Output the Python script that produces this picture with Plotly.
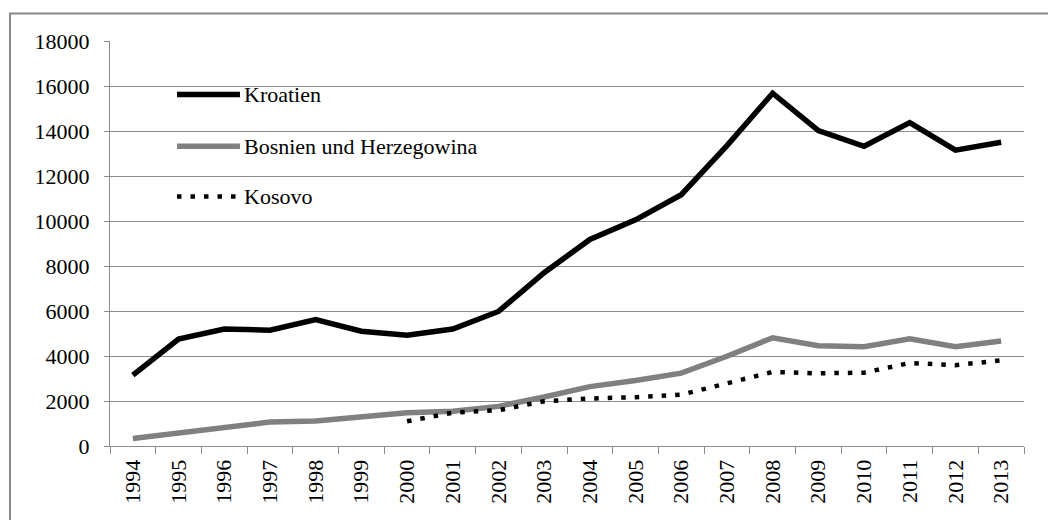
import plotly.graph_objects as go

years = [str(y) for y in range(1994, 2014)]
kroatien = [3150, 4750, 5200, 5150, 5620, 5100, 4920, 5200, 5980, 7700,
            9180, 10050, 11170, 13350, 15680, 14020, 13320, 14370, 13150, 13500]
bosnien = [330, 556, 810, 1065, 1110, 1305, 1480, 1545, 1760, 2180,
           2640, 2910, 3240, 3990, 4810, 4460, 4410, 4760, 4410, 4670]
kosovo_years = [str(y) for y in range(2000, 2014)]
kosovo = [1100, 1480, 1590, 1990, 2110, 2170, 2280, 2800, 3290, 3230,
          3260, 3690, 3590, 3810]
names = ["Kroatien", "Bosnien und Herzegowina", "Kosovo"]
y_ticks = list(range(0, 18001, 2000))

FONT = "Liberation Serif, Times New Roman, serif"
GRID = "#8c8c8c"
FS = 22

fig = go.Figure()
fig.add_trace(go.Scatter(x=years, y=kroatien, name=names[0], mode="lines",
                         line=dict(color="black", width=5.5)))
fig.add_trace(go.Scatter(x=years, y=bosnien, name=names[1], mode="lines",
                         line=dict(color="#808080", width=5.5)))
fig.add_trace(go.Scatter(x=kosovo_years, y=kosovo, name=names[2], mode="lines",
                         line=dict(color="black", width=4.5, dash="4.5px,9px")))

# manual legend (long line samples as in the reference)
leg_y = [0.868, 0.740, 0.616]
leg_styles = [dict(color="black", width=5.5),
              dict(color="#808080", width=5.5),
              dict(color="black", width=4.5, dash="4.5px,9px")]
shapes = []
annotations = []
for nm, yy, st in zip(names, leg_y, leg_styles):
    shapes.append(dict(type="line", xref="paper", yref="paper",
                       x0=0.0733, x1=0.1422, y0=yy, y1=yy, line=st))
    annotations.append(dict(xref="paper", yref="paper", x=0.1445, y=yy,
                            text=nm, showarrow=False, xanchor="left",
                            yanchor="middle",
                            font=dict(family=FONT, size=FS, color="black")))
# outer chart border
shapes.append(dict(type="rect", xref="paper", yref="paper",
                   x0=-0.1094, x1=1.06, y0=-0.25, y1=1.068,
                   line=dict(color="#888888", width=2), layer="below"))

fig.update_layout(
    width=1056, height=520,
    margin=dict(l=102, r=40, t=33, b=82),
    paper_bgcolor="white", plot_bgcolor="white",
    showlegend=False,
    font=dict(family=FONT, size=FS, color="black"),
    shapes=shapes, annotations=annotations,
    xaxis=dict(type="category", categoryorder="array", categoryarray=years,
               range=[-0.5, 19.5], tickangle=-90, tickson="boundaries",
               ticks="outside", ticklen=7, tickcolor=GRID, tickwidth=1,
               showline=True, linecolor=GRID, linewidth=1, showgrid=False,
               ticklabelstandoff=4, automargin=False,
               tickfont=dict(family=FONT, size=FS, color="black")),
    yaxis=dict(range=[0, 18000], tickvals=y_ticks,
               ticktext=[str(v) for v in y_ticks],
               ticks="outside", ticklen=5, tickcolor=GRID, tickwidth=1,
               showline=True, linecolor=GRID, linewidth=1,
               showgrid=True, gridcolor=GRID, gridwidth=1, zeroline=False,
               ticklabelstandoff=10, automargin=False,
               tickfont=dict(family=FONT, size=FS, color="black")),
)

fig.write_html("out.html")
